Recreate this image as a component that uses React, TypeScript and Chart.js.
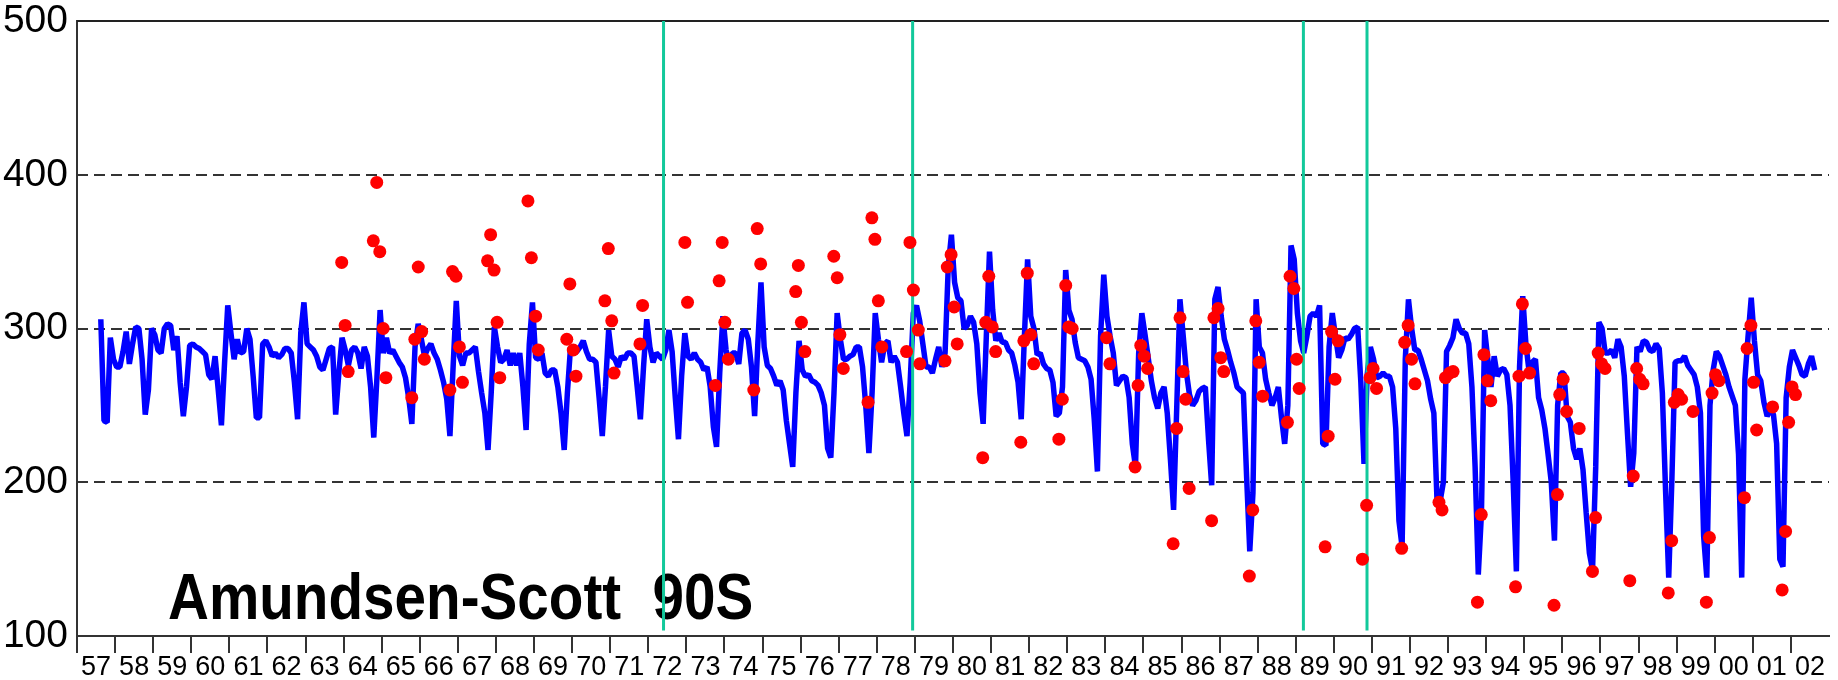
import React, { useEffect, useRef } from 'react';
import { Chart, registerables } from 'chart.js';

Chart.register(...registerables);

// ---------- DATA ----------
const firstYear = 1957;
const lastYear = 2002;
const stationTitle = 'Amundsen-Scott  90S';

// Monthly total ozone (blue line), Jan..Dec per row, null = no value
const ozone1950s: (number | null)[] = [
  null, null, null, null, null, null, null, 306, 240, 239, 294, 280, // 1957
  275, 275, 285, 298, 277, 290, 301, 300, 280, 244, 260, 300, // 1958
  296, 286, 284, 300, 303, 302, 286, 295, 265, 243, 262, 289, // 1959
];
const ozone1960s: (number | null)[] = [
  290, 288, 287, 285, 283, 270, 267, 282, 260, 237, 278, 315, // 1960
  297, 280, 293, 284, 285, 300, 293, 269, 242, 242, 290, 292, // 1961
  288, 282, 284, 281, 283, 287, 287, 284, 265, 241, 297, 317, // 1962
  290, 288, 286, 282, 275, 273, 280, 287, 288, 244, 271, 294, // 1963
  286, 276, 286, 288, 284, 274, 288, 282, 262, 229, 268, 312, // 1964
  284, 294, 284, 286, 282, 278, 275, 268, 255, 238, 288, 303, // 1965
  293, 282, 287, 290, 284, 280, 273, 265, 254, 230, 275, 318, // 1966
  282, 276, 284, 284, 286, 288, 272, 258, 245, 221, 258, 301, // 1967
  288, 278, 280, 286, 276, 284, 276, 284, 262, 234, 290, 317, // 1968
  281, 280, 284, 271, 269, 273, 273, 262, 245, 221, 258, 288, // 1969
];
const ozone1970s: (number | null)[] = [
  284, 285, 288, 292, 285, 280, 280, 278, 255, 230, 262, 299, // 1970
  282, 280, 275, 282, 280, 284, 284, 282, 262, 241, 275, 306, // 1971
  288, 278, 284, 282, 280, 286, 299, 285, 255, 228, 269, 297, // 1972
  282, 280, 284, 280, 278, 273, 275, 262, 236, 223, 271, 308, // 1973
  286, 277, 284, 284, 277, 297, 299, 293, 275, 243, 290, 330, // 1974
  288, 276, 274, 269, 263, 266, 260, 240, 225, 210, 258, 292, // 1975
  273, 269, 270, 266, 265, 263, 258, 250, 222, 216, 258, 310, // 1976
  293, 280, 280, 282, 283, 288, 288, 275, 250, 219, 258, 310, // 1977
  293, 278, 290, 292, 278, 282, 278, 262, 245, 230, 265, 310, // 1978
  315, 305, 290, 275, 275, 271, 280, 288, 275, 284, 340, 361, // 1979
];
const ozone1980s: (number | null)[] = [
  330, 320, 318, 300, 302, 308, 304, 290, 258, 238, 295, 350, // 1980
  312, 292, 297, 291, 291, 286, 284, 276, 265, 241, 295, 345, // 1981
  308, 300, 283, 284, 277, 274, 273, 265, 243, 245, 262, 338, // 1982
  312, 306, 291, 281, 280, 279, 275, 267, 241, 207, 295, 335, // 1983
  308, 295, 284, 263, 266, 269, 268, 255, 225, 210, 284, 310, // 1984
  296, 281, 266, 255, 248, 258, 262, 245, 215, 182, 249, 319, // 1985
  296, 272, 257, 250, 253, 259, 261, 262, 228, 198, 319, 327, // 1986
  308, 293, 286, 278, 271, 262, 260, 258, 204, 155, 193, 319, // 1987
  288, 284, 267, 258, 250, 255, 262, 242, 225, 250, 354, 345, // 1988
  310, 292, 284, 295, 308, 310, 308, 315, 225, 224, 288, 310, // 1989
];
const ozone1990s: (number | null)[] = [
  295, 281, 286, 294, 293, 296, 300, 301, 265, 212, 270, 288, // 1990
  280, 268, 269, 271, 269, 269, 262, 235, 175, 158, 280, 319, // 1991
  300, 286, 286, 280, 273, 266, 254, 245, 188, 188, 200, 285, // 1992
  289, 294, 306, 300, 297, 297, 290, 262, 210, 140, 180, 299, // 1993
  280, 262, 282, 269, 273, 274, 270, 250, 200, 142, 275, 321, // 1994
  290, 272, 278, 280, 255, 247, 235, 218, 200, 162, 250, 271, // 1995
  271, 243, 239, 222, 215, 222, 208, 180, 154, 143, 210, 304, // 1996
  300, 284, 284, 286, 281, 293, 288, 269, 232, 197, 219, 288, // 1997
  285, 292, 291, 286, 285, 290, 287, 258, 195, 138, 202, 278, // 1998
  279, 279, 282, 276, 273, 270, 262, 245, 165, 138, 250, 273, // 1999
];
const ozone2000s: (number | null)[] = [
  285, 282, 276, 270, 262, 256, 250, 218, 138, 267, 295, 320, // 2000
  292, 270, 266, 252, 243, 247, 244, 225, 150, 145, 255, 275, // 2001
  286, 281, 276, 270, 269, 277, 282, 273, null, null, null, null, // 2002
];

// Individual soundings (red dots): decimal year and value
const sondeDates: number[] = [
  1963.95, 1964.04, 1964.12, 1964.78, 1964.87, 1964.95, 1965.04, 1965.11, 1965.79, 1965.87,
  1965.96, 1966.05, 1966.12, 1966.79, 1966.86, 1966.95, 1967.04, 1967.12, 1967.78, 1967.86,
  1967.95, 1968.03, 1968.10, 1968.84, 1968.93, 1969.04, 1969.11, 1969.86, 1969.94, 1970.03,
  1970.10, 1970.86, 1970.95, 1971.04, 1971.10, 1971.78, 1971.85, 1972.96, 1973.03, 1973.76,
  1973.86, 1973.94, 1974.01, 1974.10, 1974.77, 1974.86, 1974.95, 1975.87, 1975.94, 1976.02,
  1976.11, 1976.87, 1976.96, 1977.03, 1977.12, 1977.77, 1977.87, 1977.95, 1978.04, 1978.13,
  1978.78, 1978.87, 1978.96, 1979.09, 1979.13, 1979.79, 1979.85, 1979.95, 1980.03, 1980.11,
  1980.78, 1980.86, 1980.94, 1981.03, 1981.12, 1981.78, 1981.86, 1981.95, 1982.04, 1982.12,
  1982.78, 1982.87, 1982.96, 1983.04, 1983.13, 1984.03, 1984.12, 1984.78, 1984.86, 1984.93,
  1985.02, 1985.11, 1985.78, 1985.87, 1985.96, 1986.04, 1986.11, 1986.20, 1986.79, 1986.85,
  1986.96, 1987.03, 1987.11, 1987.78, 1987.87, 1987.95, 1988.04, 1988.13, 1988.78, 1988.85,
  1988.95, 1989.02, 1989.09, 1989.77, 1989.85, 1989.94, 1990.03, 1990.11, 1990.75, 1990.86,
  1990.95, 1991.03, 1991.12, 1991.78, 1991.86, 1991.95, 1992.04, 1992.13, 1992.76, 1992.84,
  1992.93, 1993.04, 1993.13, 1993.77, 1993.87, 1993.94, 1994.03, 1994.12, 1994.77, 1994.86,
  1994.95, 1995.03, 1995.14, 1995.78, 1995.87, 1995.93, 1996.02, 1996.11, 1996.44, 1996.79,
  1996.87, 1996.94, 1997.03, 1997.12, 1997.77, 1997.86, 1997.95, 1998.03, 1998.12, 1998.78,
  1998.87, 1998.94, 1999.04, 1999.13, 1999.43, 1999.78, 1999.86, 1999.93, 2000.02, 2000.11,
  2000.78, 2000.85, 2000.95, 2001.02, 2001.10, 2001.52, 2001.77, 2001.86, 2001.94, 2002.03,
  2002.12,
];
const sondeValues: number[] = [
  343, 302, 272, 357, 395, 350, 300, 268, 255, 293,
  340, 298, 280, 260, 337, 334, 288, 265, 344, 361,
  338, 304, 268, 383, 346, 308, 286, 293, 329, 286,
  269, 318, 352, 305, 271, 290, 315, 356, 317, 263,
  331, 356, 304, 280, 260, 365, 342, 324, 341, 304,
  285, 347, 333, 296, 274, 252, 372, 358, 318, 288,
  285, 356, 325, 299, 277, 279, 340, 348, 314, 290,
  216, 304, 334, 301, 285, 226, 292, 336, 296, 277,
  228, 254, 328, 301, 300, 294, 277, 210, 263, 289,
  282, 274, 160, 235, 307, 272, 254, 196, 175, 307,
  313, 281, 272, 139, 182, 305, 278, 256, 239, 334,
  326, 280, 261, 158, 230, 298, 267, 292, 150, 185,
  268, 274, 261, 157, 291, 302, 280, 264, 187, 182,
  268, 271, 272, 122, 179, 283, 266, 253, 132, 269,
  316, 287, 271, 120, 192, 257, 267, 246, 235, 142,
  177, 284, 277, 274, 136, 204, 274, 267, 264, 128,
  162, 252, 257, 254, 246, 122, 164, 258, 270, 266,
  190, 287, 302, 265, 234, 249, 130, 168, 239, 262,
  257,
];

// Instrument / method changes (green vertical lines), decimal years
const changeDates: number[] = [1972.4, 1978.94, 1989.2, 1990.87];

const yTickValues: number[] = [100, 200, 300, 400, 500];
const dashedGridValues: number[] = [200, 300, 400];

// ---------- CHART ----------
const FONT = '"Liberation Sans", Arial, Helvetica, sans-serif';

const monthly = [...ozone1950s, ...ozone1960s, ...ozone1970s, ...ozone1980s, ...ozone1990s, ...ozone2000s];

export default function App() {
  const canvasRef = useRef<HTMLCanvasElement | null>(null);

  useEffect(() => {
    const canvas = canvasRef.current;
    if (!canvas) return;

    const lineData = monthly.map((v, i) => ({ x: firstYear + (i + 0.5) / 12, y: v }));
    const dotData = sondeDates.map((d, i) => ({ x: d, y: sondeValues[i] }));

    const xTickValues: number[] = [];
    for (let y = firstYear; y <= lastYear; y++) {
      xTickValues.push(y);
      xTickValues.push(y + 0.5);
    }

    const decor = {
      id: 'decor',
      beforeDatasetsDraw(chart: any) {
        const { ctx, chartArea, scales } = chart;
        const ys = scales.y;
        ctx.save();
        // dashed horizontal grid
        ctx.strokeStyle = '#333';
        ctx.lineWidth = 2;
        ctx.setLineDash([11, 6]);
        for (const v of dashedGridValues) {
          const py = Math.round(ys.getPixelForValue(v));
          ctx.beginPath();
          ctx.moveTo(chartArea.left, py);
          ctx.lineTo(chartArea.right, py);
          ctx.stroke();
        }
        ctx.setLineDash([]);
        // top frame line
        const pTop = Math.round(ys.getPixelForValue(500));
        ctx.strokeStyle = '#222';
        ctx.lineWidth = 2;
        ctx.beginPath();
        ctx.moveTo(chartArea.left, pTop);
        ctx.lineTo(chartArea.right, pTop);
        ctx.stroke();
        // station title
        ctx.fillStyle = '#000';
        ctx.font = 'bold 64px ' + FONT;
        ctx.textBaseline = 'alphabetic';
        ctx.textAlign = 'left';
        ctx.translate(chartArea.left + 91, chartArea.bottom - 17);
        ctx.scale(0.885, 1);
        ctx.fillText(stationTitle, 0, 0);
        ctx.restore();
      },
    };

    const changeSets = changeDates.map((d) => ({
      type: 'line' as const,
      data: [{ x: d, y: 500 }, { x: d, y: 103.5 }],
      borderColor: '#12c99b',
      borderWidth: 3,
      pointRadius: 0,
      order: 1,
    }));

    const chart = new Chart(canvas, {
      type: 'line',
      data: {
        datasets: [
          {
            type: 'line',
            data: lineData,
            borderColor: '#0000ff',
            borderWidth: 5.5,
            borderJoinStyle: 'bevel',
            pointRadius: 0,
            tension: 0,
            spanGaps: false,
            order: 2,
          } as any,
          ...changeSets,
          {
            type: 'scatter',
            data: dotData,
            backgroundColor: '#ff0000',
            borderWidth: 0,
            pointRadius: 6.5,
            order: 0,
          } as any,
        ],
      },
      options: {
        responsive: false,
        animation: false,
        devicePixelRatio: 1,
        layout: { padding: { top: 21, right: 9, bottom: 0, left: 0 } },
        plugins: { legend: { display: false }, tooltip: { enabled: false } },
        scales: {
          x: {
            type: 'linear',
            position: 'bottom',
            min: firstYear,
            max: lastYear + 1,
            afterBuildTicks: (scale: any) => {
              scale.ticks = xTickValues.map((v) => ({ value: v }));
            },
            afterFit: (scale: any) => {
              scale.height = 44;
              scale.paddingLeft = 0;
              scale.paddingRight = 0;
            },
            grid: {
              drawOnChartArea: false,
              drawTicks: true,
              tickLength: 17,
              lineWidth: 2,
              color: (ctx: any) =>
                ctx.tick && Number.isInteger(ctx.tick.value) ? '#333' : 'rgba(0,0,0,0)',
            },
            border: { display: true, color: '#333', width: 2 },
            ticks: {
              autoSkip: false,
              maxRotation: 0,
              minRotation: 0,
              padding: 1,
              color: '#000',
              font: { family: FONT, size: 27, lineHeight: 1 },
              callback: (v: any) => {
                const n = Number(v);
                if (Math.abs(n - Math.floor(n) - 0.5) > 0.01) return '';
                const yr = Math.floor(n) % 100;
                return String(yr).padStart(2, '0');
              },
            },
          },
          y: {
            type: 'linear',
            min: 100,
            max: 500,
            afterBuildTicks: (scale: any) => {
              scale.ticks = yTickValues.map((v) => ({ value: v }));
            },
            afterFit: (scale: any) => {
              scale.width = 77;
              scale.paddingTop = 0;
              scale.paddingBottom = 0;
            },
            grid: { drawOnChartArea: false, drawTicks: false },
            border: { display: true, color: '#333', width: 2 },
            ticks: {
              padding: 9,
              color: '#000',
              font: { family: FONT, size: 39 },
            },
          },
        },
      },
      plugins: [decor],
    } as any);

    return () => chart.destroy();
  }, []);

  return (
    <div style={{ position: 'fixed', left: 0, top: 0, width: 1838, height: 680, background: '#fff' }}>
      <canvas ref={canvasRef} width={1838} height={680} style={{ display: 'block' }} />
    </div>
  );
}
